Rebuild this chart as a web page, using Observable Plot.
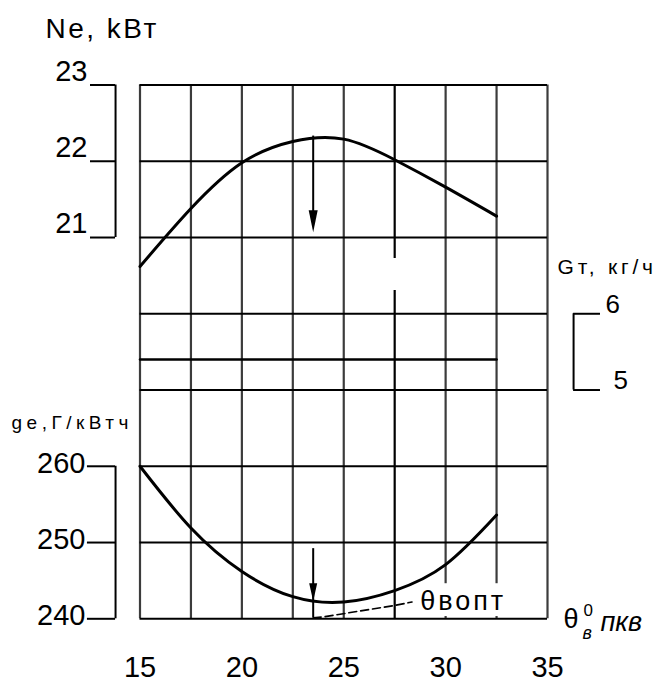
<!DOCTYPE html>
<html>
<head>
<meta charset="utf-8">
<script src="https://cdn.jsdelivr.net/npm/d3@7"></script>
<script src="https://cdn.jsdelivr.net/npm/@observablehq/plot@0.6"></script>
<style>
  html, body { margin: 0; padding: 0; background: #fff; }
</style>
</head>
<body>
<div id="chart"></div>
<script>
// Ignition advance angle θ, degrees of crank rotation (shared x axis)
const thetaTicks = [15, 20, 25, 30, 35];
const thetaGrid = [15, 17.5, 20, 22.5, 25, 27.5, 30, 32.5, 35];

// Effective power Ne, kW
const neTheta  = [15, 17.5, 20, 22.5, 25, 27.5, 30, 32.5];
const neValues = [20.62, 21.38, 21.98, 22.26, 22.29, 22.02, 21.66, 21.28];
const neTicks  = [21, 22, 23];

// Hourly fuel consumption Gт, kg/h
const gtTheta  = [15, 32.5];
const gtValues = [5.4, 5.4];
const gtTicks  = [5, 6];

// Specific fuel consumption ge, g/kWh
const geTheta  = [15, 17.5, 20, 22.5, 25, 27.5, 30, 32.5];
const geValues = [260, 251.9, 246.2, 242.9, 242.2, 243.7, 247.1, 253.6];
const geTicks  = [240, 250, 260];

// Optimum advance angle and the values read there
const thetaOpt = 23.5;
const neAtOpt = 22.33;      // kW, top of the power curve
const geAtOpt = 242.3;      // g/kWh, bottom of the consumption curve
const neArrowEnd = 21.07;   // kW, where the power arrow stops
const geArrowTop = 249.2;   // g/kWh, where the consumption arrow starts
const optLeader = [[23.5, 240.12], [24.0, 240.25], [27.5, 241.75], [28.35, 242.2]]; // [θ, ge]
const optLabel = "θвопт";

// Every quantity shares one vertical grid of 7 rows (row 0 = bottom edge)
const neRow = v => v - 16;
const geRow = v => (v - 240) / 10;
const gtRow = v => v - 2;

const ne = neTheta.map((t, i) => ({theta: t, v: neValues[i]}));
const ge = geTheta.map((t, i) => ({theta: t, v: geValues[i]}));
const gt = gtTheta.map((t, i) => ({theta: t, v: gtValues[i]}));
const gridRows = [...neTicks.map(neRow), ...gtTicks.map(gtRow), ...geTicks.map(geRow)];

// Layout of the detached axes (in θ units, outside the frame)
const leftBracketX = 13.8, neTickX = 12.57, geTickX = 12.42;
const rightBracketX = 36.28, gtTickX = 37.6;
// the 27.5° line is interrupted just below the 21 kW row
const breakLine = 27.5, breakRows = [4.305, 4.725];

// Narrow filled arrowhead whose tip sits on the anchor point
const arrowHead = (w, h) => ({
  draw(ctx) { ctx.moveTo(0, 0); ctx.lineTo(-w / 2, -h); ctx.lineTo(w / 2, -h); ctx.closePath(); }
});

const txt = (data, o) => Plot.text(data, {fill: "#000", ...o});

const chart = Plot.plot({
  width: 667,
  height: 684,
  marginLeft: 139.5,
  marginRight: 120,
  marginTop: 84.5,
  marginBottom: 65.7,
  style: {fontFamily: "'Liberation Sans', Arial, sans-serif"},
  x: {domain: [15, 35], axis: null},
  y: {domain: [0, 7], axis: null},
  marks: [
    // grid
    Plot.ruleX(thetaGrid.filter(d => d !== breakLine), {x: d => d, stroke: "#3c3c3c", strokeWidth: 2.2}),
    Plot.ruleX([[0, breakRows[0]], [breakRows[1], 7]], {x: breakLine, y1: d => d[0], y2: d => d[1], stroke: "#000", strokeWidth: 2.2}),
    Plot.ruleY(gridRows, {y: d => d, stroke: "#000", strokeWidth: 2}),
    // hourly fuel consumption
    Plot.line(gt, {x: "theta", y: d => gtRow(d.v), stroke: "#000", strokeWidth: 2.5}),
    // clear space for the optimum label
    Plot.rect([optLabel], {x1: 28.7, x2: 33.0, y1: geRow(240.3), y2: geRow(244.6), fill: "#fff"}),
    // power and specific consumption curves
    Plot.line(ne, {x: "theta", y: d => neRow(d.v), curve: "natural", stroke: "#000", strokeWidth: 3}),
    Plot.line(ge, {x: "theta", y: d => geRow(d.v), curve: "natural", stroke: "#000", strokeWidth: 3}),
    // optimum arrows
    Plot.ruleX([thetaOpt], {x: d => d, y1: neRow(neAtOpt), y2: neRow(neArrowEnd) + 0.1, stroke: "#000", strokeWidth: 2}),
    Plot.dot([thetaOpt], {x: d => d, y: neRow(neArrowEnd), symbol: arrowHead(9, 22), fill: "#000", stroke: "none"}),
    Plot.ruleX([thetaOpt], {x: d => d, y1: geRow(geArrowTop), y2: geRow(240.12), stroke: "#000", strokeWidth: 2}),
    Plot.dot([thetaOpt], {x: d => d, y: geRow(geAtOpt), symbol: arrowHead(8, 18), fill: "#000", stroke: "none"}),
    Plot.line(optLeader, {x: d => d[0], y: d => geRow(d[1]), stroke: "#000", strokeWidth: 1.6, strokeDasharray: "8,4"}),
    txt([optLabel], {x: 28.75, y: geRow(242.25), textAnchor: "start", lineAnchor: "middle", fontSize: 27}),

    // Ne axis (left, top)
    Plot.ruleX([leftBracketX], {x: d => d, y1: neRow(21), y2: neRow(23), stroke: "#000", strokeWidth: 2}),
    Plot.ruleY(neTicks, {y: neRow, x1: neTickX, x2: leftBracketX, stroke: "#000", strokeWidth: 2}),
    txt(neTicks, {y: neRow, frameAnchor: "left", dx: -52.5, dy: -4.5, text: d => String(d),
      textAnchor: "end", lineAnchor: "bottom", fontSize: 29}),
    txt(["Ne, kВт"], {frameAnchor: "top-left", dx: 45 - 139.5, dy: 37 - 84.5, textAnchor: "start",
      lineAnchor: "bottom", fontSize: 28}),

    // ge axis (left, bottom)
    Plot.ruleX([leftBracketX], {x: d => d, y1: geRow(240), y2: geRow(260), stroke: "#000", strokeWidth: 2}),
    Plot.ruleY(geTicks, {y: geRow, x1: geTickX, x2: leftBracketX, stroke: "#000", strokeWidth: 2}),
    txt(geTicks, {y: geRow, frameAnchor: "left", dx: -54.5, dy: -3, text: d => String(d),
      textAnchor: "end", lineAnchor: "middle", fontSize: 29}),
    txt(["ge,Г/кВтч"], {frameAnchor: "top-left", dx: 11 - 139.5, dy: 428 - 84.5, textAnchor: "start",
      lineAnchor: "bottom", fontSize: 19}),

    // Gт axis (right, middle)
    Plot.ruleX([rightBracketX], {x: d => d, y1: gtRow(5), y2: gtRow(6), stroke: "#000", strokeWidth: 2}),
    Plot.ruleY(gtTicks, {y: gtRow, x1: rightBracketX, x2: gtTickX, stroke: "#000", strokeWidth: 2}),
    txt(gtTicks.filter(d => d === 6), {y: gtRow, frameAnchor: "right", dx: 58, dy: -1, text: d => String(d),
      textAnchor: "start", lineAnchor: "bottom", fontSize: 26}),
    txt(gtTicks.filter(d => d === 5), {y: gtRow, frameAnchor: "right", dx: 66, dy: -1, text: d => String(d),
      textAnchor: "start", lineAnchor: "bottom", fontSize: 26}),
    txt(["Gт, кг/ч"], {frameAnchor: "top-right", dx: 10, dy: 273 - 84.5, textAnchor: "start",
      lineAnchor: "bottom", fontSize: 21}),

    // θ axis
    txt(thetaTicks, {x: d => d, frameAnchor: "bottom", dy: 49, text: d => String(d),
      lineAnchor: "middle", fontSize: 29}),
    txt(["θ"], {frameAnchor: "bottom-right", dx: 16, dy: 8.7, textAnchor: "start", lineAnchor: "bottom", fontSize: 27}),
    txt(["0"], {frameAnchor: "bottom-right", dx: 36, dy: -3.3, textAnchor: "start", lineAnchor: "bottom", fontSize: 17}),
    txt(["в"], {frameAnchor: "bottom-right", dx: 35, dy: 19.7, textAnchor: "start", lineAnchor: "bottom",
      fontSize: 18, fontStyle: "italic"}),
    txt(["пкв"], {frameAnchor: "bottom-right", dx: 53, dy: 11.7, textAnchor: "start", lineAnchor: "bottom",
      fontSize: 27, fontStyle: "italic"})
  ]
});

// wide tracking on the axis titles
const tracking = {"Ne, kВт": 2.5, "ge,Г/кВтч": 4.5, "Gт, кг/ч": 3.8, "θвопт": 3};
chart.querySelectorAll("text").forEach(t => {
  const ls = tracking[t.textContent];
  if (ls) t.style.letterSpacing = ls + "px";
});
document.getElementById("chart").appendChild(chart);
</script>
</body>
</html>
